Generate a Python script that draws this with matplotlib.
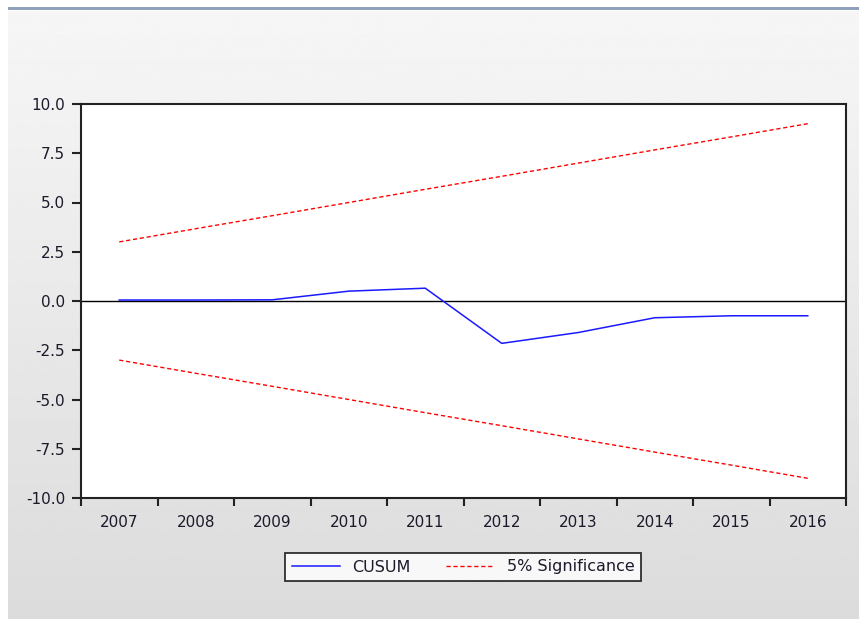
import numpy as np
import matplotlib.pyplot as plt
from matplotlib.patches import Rectangle

plt.rcParams['font.family'] = ['DejaVu Sans']

years = ['2007', '2008', '2009', '2010', '2011', '2012', '2013', '2014', '2015', '2016']
cusum = [0.05, 0.05, 0.06, 0.5, 0.65, -2.15, -1.6, -0.85, -0.75, -0.75]
upper = [3.0, 3.67, 4.33, 5.0, 5.67, 6.33, 7.0, 7.67, 8.33, 9.0]
lower = [-3.0, -3.67, -4.33, -5.0, -5.67, -6.33, -7.0, -7.67, -8.33, -9.0]
yticks = [-10.0, -7.5, -5.0, -2.5, 0.0, 2.5, 5.0, 7.5, 10.0]

fig = plt.figure(figsize=(8.59, 6.19), dpi=100)
fig.patch.set_facecolor('white')

# grey gradient panel behind the chart
bg = fig.add_axes([8 / 859, 0, 1 - 8 / 859, 1 - 11 / 619], zorder=-10)
grad = np.linspace(0.965, 0.86, 256).reshape(-1, 1)
bg.imshow(grad, cmap='gray', vmin=0, vmax=1, aspect='auto', extent=[0, 1, 0, 1])
bg.set_axis_off()

# thin blue-grey strip along the top edge
fig.patches.append(Rectangle((8 / 859, 1 - 10 / 619), 1, 3 / 619, transform=fig.transFigure,
                             facecolor='#8ea0bb', edgecolor='none'))

ax = fig.add_axes([81 / 859, 1 - 498 / 619, 765 / 859, 394 / 619])
ax.set_facecolor('white')
x = np.arange(len(years))

ax.axhline(0, color='black', lw=1.0, zorder=1)
ax.plot(x, cusum, color='#1a1aff', lw=1.1, label='CUSUM', zorder=3)
ax.plot(x, upper, color='red', lw=1.0, ls=(0, (3, 2)), label='5% Significance', zorder=2)
ax.plot(x, lower, color='red', lw=1.0, ls=(0, (3, 2)), zorder=2)

ax.set_xlim(-0.5, 9.5)
ax.set_ylim(-10, 10)
ax.set_yticks(yticks)
ax.set_yticklabels([f'{v:.1f}' for v in yticks])

# year ticks sit between categories, labels centred in each slot
ax.set_xticks(np.arange(-0.5, 10, 1.0))
ax.set_xticklabels([])
ax.set_xticks(x, minor=True)
ax.set_xticklabels(years, minor=True)
ax.tick_params(axis='x', which='major', direction='out', length=6, width=1.5, color='#222222')
ax.tick_params(axis='x', which='minor', length=0, pad=12, labelsize=11, labelcolor='#1a1a2a')
ax.tick_params(axis='y', direction='out', length=6.5, width=1.5, color='#222222',
               labelsize=11, pad=5, labelcolor='#1a1a2a')

for s in ax.spines.values():
    s.set_linewidth(1.5)
    s.set_color('#222222')

leg = fig.legend(loc='center', bbox_to_anchor=(463 / 859, 1 - 567 / 619), ncol=2,
                 fontsize=11.5, frameon=True, fancybox=False, edgecolor='black',
                 handlelength=3.0, handletextpad=0.8, columnspacing=2.2, borderpad=0.4)
leg.get_frame().set_linewidth(1.3)
for t in leg.get_texts():
    t.set_color('#1a1a2a')

fig.savefig('out.png', dpi=100)
